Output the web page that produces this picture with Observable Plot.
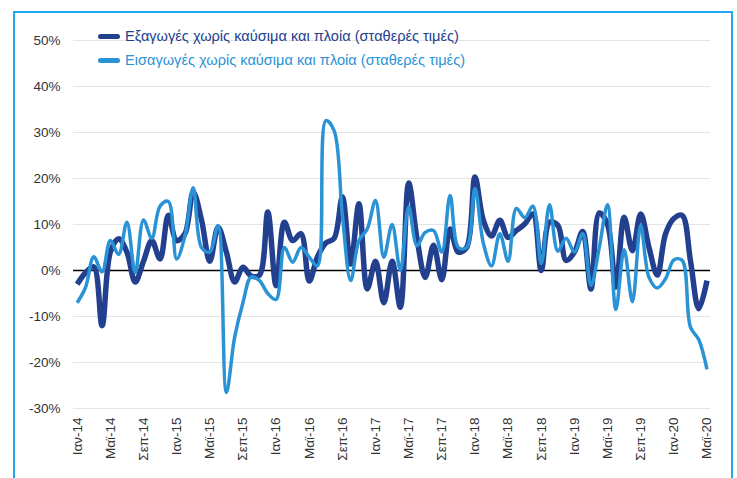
<!DOCTYPE html>
<html>
<head>
<meta charset="utf-8">
<script src="https://cdn.jsdelivr.net/npm/d3@7"></script>
<script src="https://cdn.jsdelivr.net/npm/@observablehq/plot@0.6"></script>
<style>
  html, body { margin: 0; padding: 0; background: #fff; overflow: hidden; width: 737px; height: 478px; }
  #wrap { position: relative; width: 737px; height: 478px; font-family: "Liberation Sans", Arial, sans-serif; }
  #frame { position: absolute; left: 13px; top: 11px; width: 720px; height: 520px; border: 2px solid #1FA8EE; box-sizing: border-box; pointer-events: none; }
  #chart { position: absolute; left: 0; top: 0; }
  .leg { position: absolute; left: 98px; font-size: 14.6px; white-space: nowrap; display: flex; align-items: center; }
  .leg .sw { display: inline-block; width: 22px; height: 5px; border-radius: 3px; margin-right: 5px; }
</style>
</head>
<body>
<div id="wrap">
  <div id="chart"></div>
  <div id="frame"></div>
  <div class="leg" id="leg1" style="top:28px; color:#22408E;"><span class="sw" style="background:#22408E"></span>Εξαγωγές χωρίς καύσιμα και πλοία (σταθερές τιμές)</div>
  <div class="leg" id="leg2" style="top:52px; color:#2A93D5;"><span class="sw" style="background:#2A93D5"></span>Εισαγωγές χωρίς καύσιμα και πλοία (σταθερές τιμές)</div>
</div>
<script>
// Month tick labels (every 4th month, Jan 2014 .. May 2020)
const tickLabels = ["Ιαν-14","Μαϊ-14","Σεπ-14","Ιαν-15","Μαϊ-15","Σεπ-15","Ιαν-16","Μαϊ-16","Σεπ-16","Ιαν-17","Μαϊ-17","Σεπ-17","Ιαν-18","Μαϊ-18","Σεπ-18","Ιαν-19","Μαϊ-19","Σεπ-19","Ιαν-20","Μαϊ-20"];

const seriesNames = ["Εξαγωγές χωρίς καύσιμα και πλοία (σταθερές τιμές)", "Εισαγωγές χωρίς καύσιμα και πλοία (σταθερές τιμές)"];

// Exports excl. fuels and ships, constant prices, y/y % (monthly, Jan-14 .. May-20)
const exportsVals = [
  -3, -0.5, 0.8, -12, 4, 6.9, 4, -2.5, 2, 6.5, 2.5, 12,
  6.5, 8, 17, 11, 2, 9.4, 4, -2.5, 0.7, -1.2, -1, 12.7,
  -3.3, 10.5, 6.5, 8, -2.3, 3, 6, 7, 16, 1.4, 14.5, -4,
  2, -7, 2, -8, 19, 7, -1.5, 5.5, -2, 9, 4, 5,
  20.3, 11, 7.5, 10.9, 7.2, 8.7, 10.1, 12.3, 0, 10.5, 9.8, 2.2,
  4, 8.5, -4, 12.5, 10, -3.6, 11.6, 4.3, 12.3, 5, -1, 8,
  11.3, 12, 2.2, -8.3, -2.2
];

// Imports excl. fuels and ships, constant prices, y/y %
const importsVals = [
  -7, -3.7, 3, -0.3, 6.5, 3.5, 10.5, -0.5, 11, 7, 14, 15,
  2.5, 7.5, 18, 5, 4, 9.8, -26.5, -14.5, -7, -1.4, -2.2, -5,
  -6.3, 5, 1.8, 5, 2.9, 1, 32.6, 30.4, 12, -2.2, 6.5, 9,
  15.2, 2.9, 10, 0, 13.8, 5.4, 8.3, 8.7, 4, 16.3, 5, 5,
  17.8, 6, 1, 8, 2, 13.5, 11.5, 14, 1.5, 14.3, 4.2, 7,
  4, 8, -3.2, 5, 14.3, -8.5, 4.5, -6.8, 9.8, -1.5, -3.8, -1.8,
  2.3, 2.2, -12.3, -15, -21.5
];

const yTicks = [-30, -20, -10, 0, 10, 20, 30, 40, 50];

const data = [];
exportsVals.forEach((v, i) => data.push({i, v, s: seriesNames[0]}));
importsVals.forEach((v, i) => data.push({i, v, s: seriesNames[1]}));

const chart = Plot.plot({
  width: 737,
  height: 478,
  marginLeft: 73,
  marginRight: 27,
  marginTop: 40,
  marginBottom: 70,
  style: {fontFamily: "'Liberation Sans', Arial, sans-serif", fontSize: "13px", color: "#404040", background: "transparent"},
  x: {domain: [0, 76], insetLeft: 3.7, insetRight: 3.5},
  y: {domain: [-30, 50]},
  color: {domain: seriesNames, range: ["#22408E", "#2A93D5"]},
  marks: [
    Plot.gridY(yTicks, {stroke: "#d8d8d8", strokeOpacity: 0.7, strokeWidth: 1}),
    Plot.axisY(yTicks, {tickSize: 0, tickPadding: 13, tickFormat: d => d + "%", label: null, fontSize: 13.5, fill: "#333"}),
    Plot.axisX(tickLabels.map((d, k) => k * 4), {tickSize: 0, tickPadding: 9, tickRotate: -90, tickFormat: i => tickLabels[i / 4], label: null, fontSize: 13.5, fill: "#333"}),
    Plot.ruleY([0], {stroke: "#000", strokeWidth: 1.6}),
    Plot.line(data.filter(d => d.s === seriesNames[0]), {x: "i", y: "v", stroke: "s", strokeWidth: 5.5, curve: "catmull-rom", strokeLinejoin: "round", strokeLinecap: "butt"}),
    Plot.line(data.filter(d => d.s === seriesNames[1]), {x: "i", y: "v", stroke: "s", strokeWidth: 3.5, curve: "catmull-rom", strokeLinejoin: "round", strokeLinecap: "butt"})
  ]
});
document.getElementById("chart").appendChild(chart);
</script>
</body>
</html>
